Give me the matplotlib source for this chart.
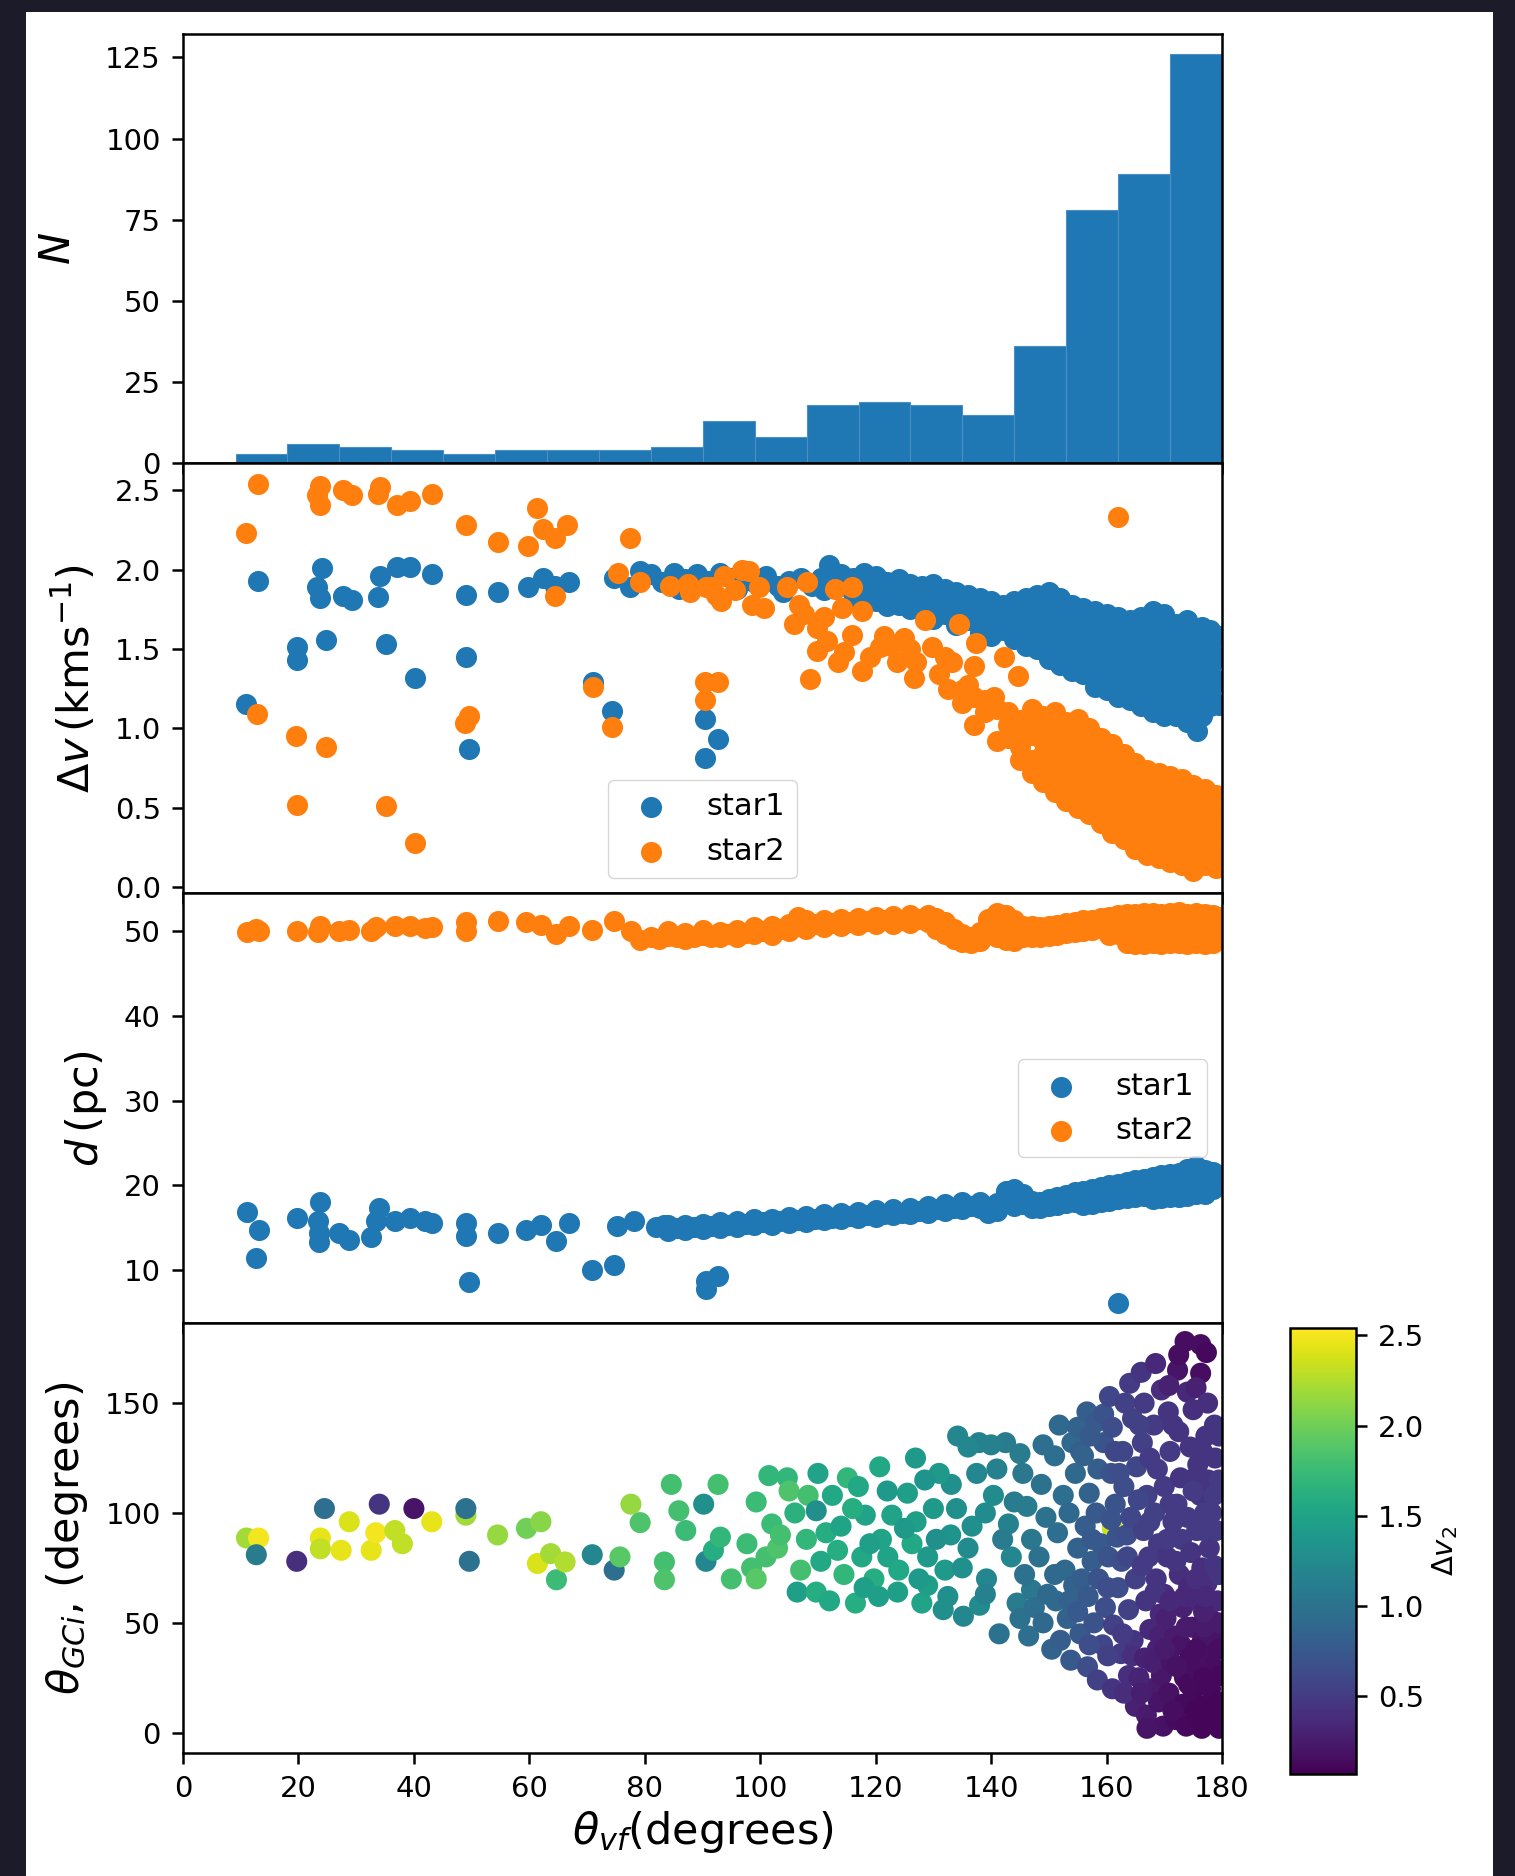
import numpy as np
import matplotlib.pyplot as plt
from matplotlib.patches import Rectangle

# ---- data ----
# histogram of theta_vf (19 bins between the min and max angle)
hist_counts = [3, 6, 5, 4, 3, 4, 4, 4, 5, 13, 8, 18, 19, 18, 15, 36, 78, 89, 126]
theta_min, theta_max = 9.1, 180.0

# delta v, star1: isolated points (theta_vf, dv)
dv1_pts = [(10.9, 1.155), (13.05, 1.93), (19.7, 1.51), (19.7, 1.43), (24.0, 2.01), (23.2, 1.89),
           (23.7, 1.82), (24.7, 1.555), (27.8, 1.835), (29.2, 1.81), (33.8, 1.83), (34.1, 1.96),
           (35.1, 1.53), (37.0, 2.02), (39.3, 2.02), (40.2, 1.32), (43.2, 1.975), (49.0, 1.84),
           (49.0, 1.45), (49.6, 0.87), (54.6, 1.86), (59.8, 1.89), (62.4, 1.95), (64.4, 1.90),
           (66.8, 1.92), (71.1, 1.29), (74.4, 1.11), (74.6, 1.95), (77.4, 1.89), (79.2, 1.99),
           (90.4, 1.056), (92.7, 0.93), (90.4, 0.81),
           (81, 1.97), (83, 1.92), (85, 1.98), (87, 1.94), (89, 1.97), (91, 1.93), (93, 1.98),
           (95, 1.95), (97, 1.97), (99, 1.92), (101, 1.96), (103, 1.90), (105, 1.93), (107, 1.95),
           (109, 1.90), (112, 2.03), (110.5, 1.95), (86, 1.88), (96, 1.88), (104, 1.86), (111, 1.87)]
# delta v, star1: dense band, columns of (theta_vf, [dv ...])
dv1_cols = [(114, [1.97, 1.90]), (116, [1.95, 1.88, 1.80]), (118, [1.98, 1.91, 1.84]),
            (120, [1.96, 1.88, 1.80]), (122, [1.92, 1.85, 1.77]), (124, [1.94, 1.86, 1.78]),
            (126, [1.91, 1.83, 1.75]), (128, [1.90, 1.82, 1.74]), (130, [1.91, 1.83, 1.75, 1.69]),
            (132, [1.88, 1.80, 1.72]), (134, [1.86, 1.79, 1.71, 1.65]), (136, [1.84, 1.76, 1.68]),
            (138, [1.82, 1.74, 1.66, 1.60]), (140, [1.80, 1.72, 1.65, 1.58]), (142, [1.78, 1.70, 1.62]),
            (144, [1.80, 1.72, 1.64, 1.56]), (146, [1.82, 1.74, 1.66, 1.58, 1.52]),
            (148, [1.84, 1.76, 1.68, 1.60, 1.50]), (150, [1.86, 1.78, 1.70, 1.62, 1.54, 1.44]),
            (152, [1.82, 1.74, 1.66, 1.58, 1.50, 1.40]), (154, [1.78, 1.70, 1.62, 1.54, 1.46, 1.36]),
            (156, [1.76, 1.68, 1.60, 1.52, 1.44, 1.34]), (158, [1.74, 1.66, 1.58, 1.50, 1.42, 1.34, 1.26]),
            (160, [1.72, 1.64, 1.56, 1.48, 1.40, 1.32, 1.24]), (162, [1.70, 1.62, 1.54, 1.46, 1.38, 1.30, 1.20]),
            (164, [1.68, 1.60, 1.52, 1.44, 1.36, 1.28, 1.18]),
            (166, [1.70, 1.62, 1.54, 1.46, 1.38, 1.30, 1.22, 1.14]),
            (168, [1.74, 1.66, 1.58, 1.50, 1.42, 1.34, 1.26, 1.18, 1.10]),
            (170, [1.72, 1.64, 1.56, 1.48, 1.40, 1.32, 1.24, 1.16, 1.08]),
            (172, [1.66, 1.58, 1.50, 1.42, 1.34, 1.26, 1.18, 1.08]),
            (174, [1.68, 1.60, 1.52, 1.44, 1.36, 1.28, 1.20, 1.12, 1.04]),
            (175.6, [1.62, 1.40, 1.20, 0.98]),
            (176.5, [1.64, 1.56, 1.48, 1.40, 1.32, 1.24, 1.16, 1.08]),
            (178, [1.62, 1.54, 1.46, 1.38, 1.30, 1.22, 1.14]), (179.5, [1.58, 1.45, 1.30, 1.15])]

# delta v, star2
dv2_pts = [(13.05, 2.54), (10.9, 2.23), (12.8, 1.09), (23.7, 2.53), (23.2, 2.47), (23.7, 2.41),
           (27.8, 2.50), (29.2, 2.47), (34.1, 2.52), (33.8, 2.48), (37.0, 2.41), (39.3, 2.43),
           (43.2, 2.48), (19.6, 0.95), (24.7, 0.88), (19.7, 0.515), (35.1, 0.51), (40.2, 0.28),
           (49.0, 2.28), (49.6, 1.08), (48.9, 1.035), (54.6, 2.175), (59.8, 2.15), (61.4, 2.39),
           (62.4, 2.255), (64.4, 2.20), (66.5, 2.28), (64.4, 1.835), (71.1, 1.26), (74.4, 1.01),
           (77.4, 2.20), (75.4, 1.98), (79.2, 1.925), (90.4, 1.29), (92.7, 1.29), (90.4, 1.18),
           (84.4, 1.90), (87.5, 1.91), (87.8, 1.86), (90.6, 1.89), (91.4, 1.89), (92.3, 1.84),
           (93.2, 1.80), (93.7, 1.96), (95.6, 1.87), (96.8, 2.00), (98.0, 1.99), (98.6, 1.78),
           (99.8, 1.89), (100.7, 1.76), (104.6, 1.89), (106.8, 1.78), (108.1, 1.92), (105.8, 1.66),
           (107.6, 1.72), (112.9, 1.88), (115.9, 1.89), (114.1, 1.76), (117.7, 1.74), (109.9, 1.63),
           (109.9, 1.49), (108.7, 1.31), (113.5, 1.42), (117.7, 1.36), (115.9, 1.59), (120.7, 1.51),
           (123.7, 1.42), (124.9, 1.57), (128.5, 1.68), (126.7, 1.32), (129.7, 1.51), (130.9, 1.34),
           (133.3, 1.42), (134.5, 1.66), (137.4, 1.54), (137.1, 1.39), (142.2, 1.45), (144.6, 1.33),
           (111.5, 1.55), (119, 1.45), (121.5, 1.58), (126, 1.50), (132, 1.45), (127, 1.42),
           (111, 1.70), (114.5, 1.48), (136, 1.27), (140.5, 1.20), (132.5, 1.25), (122.7, 1.52),
           (162, 2.33)]
dv2_cols = [(135, [1.24, 1.16]), (137, [1.20, 1.02]), (139, [1.18, 1.10]), (141, [1.12, 0.92]),
            (143, [1.10, 1.02, 0.94]), (145, [1.05, 0.97, 0.88, 0.80]), (147, [1.12, 1.04, 0.96, 0.80, 0.72]),
            (149, [1.08, 1.00, 0.92, 0.84, 0.76, 0.66]), (151, [1.10, 1.02, 0.94, 0.86, 0.78, 0.70, 0.60]),
            (153, [1.04, 0.96, 0.88, 0.80, 0.72, 0.62, 0.54]),
            (155, [1.06, 0.98, 0.90, 0.82, 0.74, 0.66, 0.58, 0.50]),
            (157, [1.00, 0.92, 0.84, 0.76, 0.68, 0.60, 0.52, 0.46]),
            (159, [0.94, 0.86, 0.78, 0.70, 0.62, 0.54, 0.46, 0.40]),
            (161, [0.90, 0.82, 0.74, 0.66, 0.58, 0.50, 0.42, 0.34]),
            (163, [0.84, 0.76, 0.68, 0.60, 0.52, 0.44, 0.36, 0.30]),
            (165, [0.78, 0.70, 0.62, 0.54, 0.46, 0.38, 0.30, 0.24]),
            (167, [0.74, 0.66, 0.58, 0.50, 0.42, 0.34, 0.26, 0.20]),
            (169, [0.72, 0.64, 0.56, 0.48, 0.40, 0.32, 0.24, 0.18]),
            (171, [0.70, 0.62, 0.54, 0.46, 0.38, 0.30, 0.22, 0.16]),
            (173, [0.68, 0.60, 0.52, 0.44, 0.36, 0.28, 0.20, 0.14]),
            (175, [0.64, 0.56, 0.48, 0.40, 0.32, 0.24, 0.16, 0.10]),
            (177, [0.62, 0.54, 0.46, 0.38, 0.30, 0.22, 0.14]), (179, [0.58, 0.46, 0.34, 0.22, 0.12])]

# distance, star1
d1_pts = [(11.0, 16.9), (13.1, 14.8), (12.7, 11.5), (19.7, 16.2), (23.8, 18.0), (23.4, 15.8),
          (23.6, 14.4), (23.6, 13.4), (27.0, 14.4), (28.8, 13.6), (32.6, 13.9), (33.4, 15.8),
          (34.0, 17.4), (36.7, 15.8), (39.4, 16.2), (41.9, 15.8), (43.1, 15.6), (49.0, 15.6),
          (49.0, 14.1), (49.6, 8.6), (54.5, 14.4), (59.5, 14.8), (62.0, 15.3), (64.7, 13.5),
          (66.8, 15.6), (70.9, 10.0), (74.7, 10.6), (75.1, 15.2), (78.2, 15.8), (81.9, 15.1),
          (83.4, 15.3), (90.6, 8.7), (90.6, 7.8), (92.7, 9.4), (162, 6.2)]
d1_cols = [(84, [15.3, 14.7]), (85.5, [15.0]), (87, [15.4, 14.8]), (88.5, [15.1]), (90, [15.5, 14.9]),
           (91.5, [15.2]), (93, [15.7, 15.0]), (94.5, [15.4]), (96, [15.8, 15.1]), (97.5, [15.5]),
           (99, [16.0, 15.3]), (100.5, [15.7]), (102, [16.1, 15.4]), (103.5, [15.8]), (105, [16.3, 15.6]),
           (106.5, [15.9]), (108, [16.4, 15.7]), (109.5, [16.0]), (111, [16.6, 15.9]), (112.5, [16.2]),
           (114, [16.8, 16.0]), (115.5, [16.4]), (117, [16.9, 16.2]), (118.5, [16.5]), (120, [17.1, 16.3]),
           (121.5, [16.7]), (123, [17.2, 16.5]), (124.5, [16.8]), (126, [17.4, 16.6]), (127.5, [17.0]),
           (129, [17.6, 16.8]), (130.5, [17.2]), (132, [17.8, 17.0]), (133.5, [17.4]), (135, [18.0, 17.2]),
           (136.5, [17.6]), (138, [18.1, 17.3]), (139.5, [17.5, 16.8]), (141, [17.9, 17.0]),
           (142.5, [19.4, 18.5]), (144, [19.6, 18.7, 17.6]), (145.5, [19.0, 17.8]), (147, [18.2, 17.4]),
           (148.5, [18.0, 17.3]), (150, [18.4, 17.6]), (151.5, [18.6, 17.7]), (153, [18.9, 17.9]),
           (154.5, [19.2, 18.1]), (156, [19.4, 18.3, 17.7]), (157.5, [19.6, 18.5, 17.8]),
           (159, [19.8, 18.8, 18.0]), (160.5, [20.0, 19.0, 18.2]), (162, [20.2, 19.2, 18.4]),
           (163.5, [20.4, 19.4, 18.5]), (165, [20.6, 19.6, 18.6]), (166.5, [20.8, 19.8, 18.8]),
           (168, [21.0, 20.0, 19.0, 18.4]), (169.5, [21.2, 20.2, 19.2, 18.5]),
           (171, [21.3, 20.3, 19.3, 18.6]), (172.5, [21.5, 20.5, 19.5, 18.7]),
           (174, [21.9, 20.7, 19.7, 18.8]), (175.5, [22.3, 21.0, 19.9, 19.0]),
           (177, [21.8, 20.8, 19.8, 19.0]), (178.5, [21.6, 20.6, 19.6]), (179.7, [21.2, 20.0])]

# distance, star2
d2_pts = [(11.0, 49.8), (13.1, 50.0), (12.7, 50.2), (19.7, 49.9), (23.8, 50.5), (23.4, 49.8),
          (27.0, 50.0), (28.8, 50.1), (32.6, 50.0), (33.4, 50.4), (36.7, 50.6), (39.4, 50.5),
          (41.9, 50.3), (43.1, 50.4), (49.0, 51.0), (49.0, 49.9), (54.5, 51.1), (59.5, 51.0),
          (62.0, 50.7), (64.7, 49.6), (66.8, 50.6), (70.9, 50.1), (74.7, 51.1), (77.6, 50.0),
          (79.2, 48.9), (81.0, 49.2)]
d2_cols = [(82.5, [49.0]), (84, [49.4, 50.0]), (85.5, [49.2]), (87, [49.0, 49.7]), (88.5, [49.3]),
           (90, [49.5, 50.1]), (91.5, [49.2]), (93, [49.8, 49.3]), (94.5, [49.6]), (96, [49.3, 50.1]),
           (97.5, [49.7]), (99, [49.6, 50.4]), (100.5, [50.0]), (102, [49.5, 50.6]), (103.5, [50.2]),
           (105, [50.8, 50.0]), (106.5, [51.6, 50.5]), (108, [51.2, 50.2]), (109.5, [50.8]),
           (111, [51.3, 50.4]), (112.5, [50.9]), (114, [51.4, 50.6]), (115.5, [51.0]), (117, [51.5, 50.7]),
           (118.5, [51.1]), (120, [51.6, 50.8]), (121.5, [51.2]), (123, [51.7, 50.8]), (124.5, [51.3]),
           (126, [51.8, 50.9]), (127.5, [51.4]), (129, [51.8, 51.0]), (130.5, [51.5, 50.2]),
           (132, [51.0, 49.6]), (133.5, [50.2, 49.0]), (135, [49.6, 48.7]), (136.5, [49.3, 48.6]),
           (138, [49.8, 48.8]), (139.5, [51.4, 49.6]), (141, [52.1, 51.0, 49.3]),
           (142.5, [51.8, 50.6, 48.9]), (144, [51.2, 50.0, 48.8]), (145.5, [50.6, 49.3]),
           (147, [50.5, 49.2]), (148.5, [50.4, 49.3]), (150, [50.6, 49.4]), (151.5, [50.7, 49.5]),
           (153, [50.9, 49.7]), (154.5, [51.0, 49.8]), (156, [51.2, 50.0]), (157.5, [51.3, 50.1]),
           (159, [51.5, 50.3]), (160.5, [51.6, 50.5, 49.5]), (162, [51.8, 50.6, 49.6]),
           (163.5, [51.9, 50.7, 49.2, 48.5]), (165, [52.0, 50.9, 49.6, 48.4]),
           (166.5, [52.1, 51.0, 49.7, 48.4]), (168, [52.1, 51.0, 49.8, 48.5]),
           (169.5, [52.0, 50.9, 49.7, 48.4]), (171, [52.1, 51.0, 49.8, 48.5]),
           (172.5, [52.2, 51.1, 49.9, 48.5]), (174, [52.0, 51.0, 49.8, 48.4]),
           (175.5, [52.1, 51.0, 49.8, 48.5]), (177, [52.0, 50.9, 49.7, 48.4]),
           (178.5, [51.8, 50.8, 49.6, 48.5]), (179.7, [51.6, 50.4, 49.2])]

# theta_GCi against theta_vf, coloured by delta v of star2: (theta_vf, theta_GCi, dv2)
gc_pts = [(11.0, 88.6, 2.2), (13.1, 88.6, 2.5), (12.7, 81, 1.1), (19.7, 78, 0.4), (23.8, 88.6, 2.45),
          (24.5, 102, 0.95), (23.8, 83.7, 2.3), (27.4, 83, 2.45), (28.8, 96, 2.4), (32.6, 83, 2.45),
          (33.4, 91, 2.5), (34.0, 104, 0.45), (36.7, 92, 2.3), (38, 86, 2.3), (40, 102, 0.2),
          (43.1, 96, 2.45), (49, 99, 2.2), (49, 102, 1.0), (49.6, 78, 1.0), (54.5, 90, 2.15),
          (59.5, 93, 2.0), (62, 96, 2.1), (61.4, 77, 2.4), (63.7, 81.5, 2.2), (64.7, 69.6, 1.75),
          (66.2, 77.7, 2.25), (70.9, 81, 1.2), (74.7, 74, 0.95), (75.7, 80, 1.9), (77.6, 104, 2.15),
          (79.2, 95.6, 1.85), (83.4, 77.7, 1.8), (83.4, 69.6, 1.85), (84.6, 113, 1.8), (85.9, 101, 1.8),
          (87.1, 92, 1.75), (90.2, 104, 1.3), (90.6, 78, 1.2), (91.9, 83, 1.6), (92.7, 113, 1.8),
          (93.1, 89, 1.7), (95, 70, 1.8), (97.7, 86, 1.75), (98.5, 75, 1.8), (99.3, 105, 1.75),
          (99.3, 70, 1.9), (101, 80, 1.8), (104.7, 116, 1.7), (105, 110, 1.85), (106.4, 64, 1.45),
          (108.3, 108, 1.8), (109.7, 101, 1.3), (109.7, 64, 1.6), (111.4, 91, 1.6), (113.4, 83, 1.6),
          (114.5, 72, 1.7), (115.1, 116, 1.7), (116.5, 59, 1.6), (117.6, 80, 1.55), (118.2, 99, 1.5),
          (119.7, 70, 1.6), (120.7, 121, 1.55), (122.1, 80, 1.5), (122.8, 99, 1.5), (123.8, 64, 1.45),
          (125.5, 109, 1.45), (126.3, 86, 1.55), (126.9, 125, 1.4), (128, 59, 1.5), (129, 80, 1.4),
          (130, 102, 1.4), (131.7, 56, 1.3), (132, 74, 1.4), (133.1, 113, 1.3), (134.2, 135, 1.2),
          (135.2, 53, 1.2), (136.7, 94, 1.3), (137.9, 132, 1.15), (139.2, 70, 1.2), (140.4, 108, 1.25),
          (141.4, 45, 1.0), (142.5, 132, 1.1), (143.5, 80, 1.2), (144.5, 59, 1.1),
          (102, 95, 1.75), (103, 84, 1.85), (107, 74, 1.8), (110, 118, 1.5), (112, 60, 1.55),
          (116, 102, 1.6), (118, 66, 1.45), (121, 88, 1.5), (124, 74, 1.55), (127, 96, 1.45),
          (129, 67, 1.45), (131, 118, 1.4), (133, 90, 1.35), (135, 75, 1.3), (136, 130, 1.2),
          (138, 58, 1.25), (139, 100, 1.25), (140, 131, 1.15), (143, 95, 1.15), (145, 127, 1.1),
          (147, 65, 1.05),
          (101.5, 117, 1.7), (103.5, 90, 1.8), (106, 100, 1.65), (108, 88, 1.7), (110.5, 78, 1.55),
          (112.5, 108, 1.55), (114, 94, 1.5), (117, 112, 1.55), (119, 86, 1.45), (120.5, 62, 1.45),
          (122, 110, 1.4), (125, 93, 1.4), (127.5, 70, 1.4), (128.5, 115, 1.35), (130.5, 88, 1.3),
          (132.5, 62, 1.3), (134, 102, 1.3), (136, 84, 1.25), (137.5, 118, 1.2), (139, 63, 1.15),
          (141, 120, 1.15), (142, 88, 1.1), (144, 105, 1.1), (145, 52, 1.0),
          (161, 93, 2.35),
          (145.5, 118, 1.05), (146.2, 103, 1.1), (147, 88, 1.05), (145.8, 72, 1.0), (147.5, 57, 0.95),
          (146.5, 44, 0.95), (149, 131, 0.95), (148.7, 113, 1.0), (149.5, 98, 1.0), (148.3, 80, 1.0),
          (149.8, 63, 0.9), (149, 50, 0.9), (150.5, 38, 0.85),
          (151, 126, 0.95), (151.8, 140, 0.9), (152.5, 108, 0.95), (151.5, 91, 0.95), (152.8, 74, 0.9),
          (151.2, 60, 0.9), (153.2, 52, 0.85), (152, 42, 0.8), (153.8, 33, 0.75), (154, 132, 0.9),
          (154.6, 118, 0.9), (153.5, 100, 0.9), (155, 84, 0.85), (154.3, 67, 0.85), (155.4, 45, 0.75),
          (155, 139, 0.85), (151, 72, 0.9), (153.5, 60, 0.85), (155.5, 128, 0.8), (155.7, 70, 0.8),
          (155, 55, 0.75),
          (156, 126, 0.85), (156.6, 146, 0.8), (157, 109, 0.85), (156.3, 94, 0.8), (157.5, 78, 0.8),
          (156.8, 62, 0.75), (157.8, 50, 0.7), (156.7, 30, 0.65), (158, 141, 0.75), (158.5, 120, 0.8),
          (158.2, 100, 0.75), (159, 86, 0.75), (158.6, 70, 0.7), (159.3, 40, 0.6), (158.4, 24, 0.55),
          (159.5, 132, 0.7), (159.8, 57, 0.65), (157.2, 135, 0.75), (157.5, 88, 0.75), (157, 40, 0.65),
          (159.5, 145, 0.7),
          (160.8, 97, 0.7), (161.8, 89, 0.7),
          (160.5, 153, 0.6), (161, 139, 0.65), (160.8, 118, 0.7), (161.5, 104, 0.7), (160.3, 80, 0.7),
          (162, 66, 0.65), (161.2, 49, 0.55), (162.5, 36, 0.5), (161, 20, 0.45), (162.8, 128, 0.6),
          (163, 112, 0.65), (163.5, 90, 0.65), (162.6, 78, 0.65), (163.8, 56, 0.55), (164, 159, 0.5),
          (164.5, 143, 0.55), (164.2, 98, 0.6), (165, 70, 0.55), (164.6, 42, 0.45), (163.8, 26, 0.4),
          (165, 12, 0.3), (165.2, 121, 0.6), (160.2, 66, 0.65), (160.2, 35, 0.55), (162.8, 45, 0.5),
          (164.5, 35, 0.4), (163, 18, 0.38), (163.6, 80, 0.6), (161.5, 128, 0.6), (162.2, 118, 0.65),
          (163.2, 150, 0.55),
          (166, 164, 0.45), (166.5, 150, 0.5), (166.2, 132, 0.55), (167, 108, 0.55), (166.4, 92, 0.55),
          (167.3, 80, 0.5), (166.8, 60, 0.45), (167.5, 47, 0.35), (166.6, 34, 0.3), (167.8, 20, 0.25),
          (166.9, 8, 0.25), (168.5, 168, 0.35), (168.2, 140, 0.5), (168.8, 120, 0.5), (168.3, 100, 0.55),
          (169, 86, 0.5), (168.6, 70, 0.45), (169.3, 54, 0.35), (168.8, 38, 0.3), (169.5, 26, 0.22),
          (169, 14, 0.2), (169.8, 3, 0.18), (169.5, 156, 0.4), (170, 112, 0.5), (170, 63, 0.4),
          (165.6, 25, 0.32), (165.5, 106, 0.6), (167.5, 96, 0.55), (166.2, 76, 0.5), (168.4, 64, 0.45),
          (165.7, 140, 0.55), (167.5, 125, 0.5), (166, 18, 0.28), (168, 32, 0.28), (167, 2, 0.2),
          (169.2, 44, 0.3),
          (170.7, 146, 0.45), (171, 128, 0.5), (171.5, 96, 0.5), (170.5, 80, 0.45), (171.8, 44, 0.25),
          (171.2, 32, 0.2), (170.8, 18, 0.18), (172, 6, 0.14), (172.3, 165, 0.2), (172.5, 137, 0.45),
          (172.8, 116, 0.45), (172.2, 104, 0.5), (173, 88, 0.5), (172.6, 72, 0.4), (173.2, 57, 0.3),
          (172.9, 40, 0.2), (173.5, 25, 0.15), (173.3, 13, 0.13), (174, 155, 0.35), (174.5, 130, 0.45),
          (174, 98, 0.5), (174.6, 82, 0.45), (174.2, 66, 0.35), (174.8, 48, 0.2), (174.4, 34, 0.15),
          (175, 19, 0.12), (174.7, 4, 0.1), (173.6, 178, 0.15), (175, 147, 0.4),
          (170.3, 52, 0.3), (171.5, 10, 0.15), (173.8, 3, 0.12), (172.2, 30, 0.18), (170, 38, 0.25),
          (171, 60, 0.35), (173.8, 48, 0.25), (174.2, 22, 0.13), (170.5, 88, 0.5), (171, 104, 0.5),
          (172, 78, 0.45), (173.5, 62, 0.35), (174.5, 115, 0.45), (170.8, 158, 0.3), (172.5, 172, 0.15),
          (171.5, 140, 0.45),
          (175.8, 122, 0.45), (176.2, 108, 0.45), (175.6, 92, 0.5), (176.5, 75, 0.4), (176, 60, 0.35),
          (176.6, 42, 0.2), (175.9, 28, 0.15), (176.8, 12, 0.1), (176.3, 176.6, 0.15),
          (176.3, 163.6, 0.15), (177.3, 173, 0.12), (177.2, 135, 0.45), (177.6, 115, 0.45),
          (177, 100, 0.5), (177.8, 84, 0.45), (177.4, 68, 0.4), (177.9, 52, 0.3), (177.5, 35, 0.17),
          (178, 20, 0.12), (177.5, 5, 0.1), (178.8, 125, 0.45), (178.6, 108, 0.5), (179, 92, 0.5),
          (178.7, 76, 0.45), (179.2, 60, 0.35), (179, 44, 0.2), (178.5, 30, 0.15), (179.3, 14, 0.1),
          (179.5, 2, 0.1), (175.3, 10, 0.1), (176.8, 25, 0.12), (178.5, 8, 0.1), (179.4, 38, 0.15),
          (175.5, 38, 0.15), (177, 48, 0.25), (179.5, 50, 0.25), (179.6, 26, 0.12), (176.5, 2, 0.1),
          (176.8, 55, 0.3), (175, 110, 0.5), (176.8, 92, 0.5), (179.5, 72, 0.45), (178.2, 100, 0.5),
          (175.5, 70, 0.4), (177.2, 62, 0.35), (175.5, 157, 0.3), (177.5, 150, 0.4), (178.7, 140, 0.45),
          (176.6, 128, 0.45), (179.5, 115, 0.5), (179.5, 135, 0.45)]


def expand(pts, cols):
    xs = [p[0] for p in pts]
    ys = [p[1] for p in pts]
    for x, vals in cols:
        xs += [x] * len(vals)
        ys += list(vals)
    return xs, ys


plt.rcParams.update({
    'font.size': 21,
    'axes.linewidth': 1.8,
    'xtick.major.width': 1.8, 'ytick.major.width': 1.8,
    'xtick.major.size': 8, 'ytick.major.size': 8,
    'xtick.major.pad': 8, 'ytick.major.pad': 8,
    'mathtext.fontset': 'dejavusans',
})

fig = plt.figure(figsize=(15.15, 18.76), dpi=100, facecolor='#1b1b29')
# white sheet over the dark screenshot background
fig.add_artist(Rectangle((0.0172, 0.0), 0.9683, 0.9936, transform=fig.transFigure,
                         facecolor='white', edgecolor='none', zorder=-1))

gs = fig.add_gridspec(4, 1, left=0.1208, right=0.8066, top=0.9821, bottom=0.0656, hspace=0)
ax1 = fig.add_subplot(gs[0])
ax2 = fig.add_subplot(gs[1], sharex=ax1)
ax3 = fig.add_subplot(gs[2], sharex=ax1)
ax4 = fig.add_subplot(gs[3], sharex=ax1)

s = 230
lab = 31
blue, orange = '#1f77b4', '#ff7f0e'

# panel 1: histogram
edges = np.linspace(theta_min, theta_max, len(hist_counts) + 1)
ax1.bar(edges[:-1], hist_counts, width=np.diff(edges), align='edge', color=blue,
        edgecolor='#4a8fc6', linewidth=0.8)
ax1.set_ylim(0, 132.3)
ax1.set_yticks([0, 25, 50, 75, 100, 125])
ax1.set_ylabel('$N$', fontsize=lab)

# panel 2: delta v
x1, y1 = expand(dv1_pts, dv1_cols)
x2, y2 = expand(dv2_pts, dv2_cols)
ax2.scatter(x1, y1, s=s, color=blue, linewidths=0, label='star1')
ax2.scatter(x2, y2, s=s, color=orange, linewidths=0, label='star2')
ax2.set_ylim(-0.04, 2.67)
ax2.set_yticks([0.0, 0.5, 1.0, 1.5, 2.0, 2.5])
ax2.set_ylabel(r'$\Delta v\,(\mathrm{kms^{-1}})$', fontsize=lab)
ax2.legend(loc='lower center', fontsize=22)

# panel 3: distance
x1, y1 = expand(d1_pts, d1_cols)
x2, y2 = expand(d2_pts, d2_cols)
ax3.scatter(x1, y1, s=s, color=blue, linewidths=0, label='star1')
ax3.scatter(x2, y2, s=s, color=orange, linewidths=0, label='star2')
ax3.set_ylim(3.8, 54.4)
ax3.set_yticks([10, 20, 30, 40, 50])
ax3.set_ylabel(r'$d\,(\mathrm{pc})$', fontsize=lab)
ax3.legend(loc='center right', fontsize=22)

# panel 4: theta_GCi coloured by delta v2
gx = [p[0] for p in gc_pts]
gy = [p[1] for p in gc_pts]
gcol = [p[2] for p in gc_pts]
sc = ax4.scatter(gx, gy, c=gcol, cmap='viridis', vmin=0.07, vmax=2.54, s=s, linewidths=0)
ax4.set_ylim(-9.2, 186.4)
ax4.set_yticks([0, 50, 100, 150])
ax4.set_ylabel(r'$\theta_{GCi}$, (degrees)', fontsize=lab)
ax4.set_xlabel(r'$\theta_{vf}$(degrees)', fontsize=lab)

ax4.set_xlim(0, 180)
ax4.set_xticks(np.arange(0, 181, 20))
for ax in (ax1, ax2, ax3):
    ax.tick_params(labelbottom=False)

ax1.yaxis.set_label_coords(-0.10, 0.5)
ax2.yaxis.set_label_coords(-0.081, 0.5)
ax3.yaxis.set_label_coords(-0.071, 0.5)
ax4.yaxis.set_label_coords(-0.090, 0.5)

cax = fig.add_axes([0.8515, 0.0544, 0.0436, 0.2377])
cb = fig.colorbar(sc, cax=cax)
cb.set_ticks([0.5, 1.0, 1.5, 2.0, 2.5])
cb.set_label(r'$\Delta v_2$', fontsize=21)
cb.outline.set_linewidth(1.8)

fig.savefig('out.png', dpi=100, facecolor=fig.get_facecolor())
